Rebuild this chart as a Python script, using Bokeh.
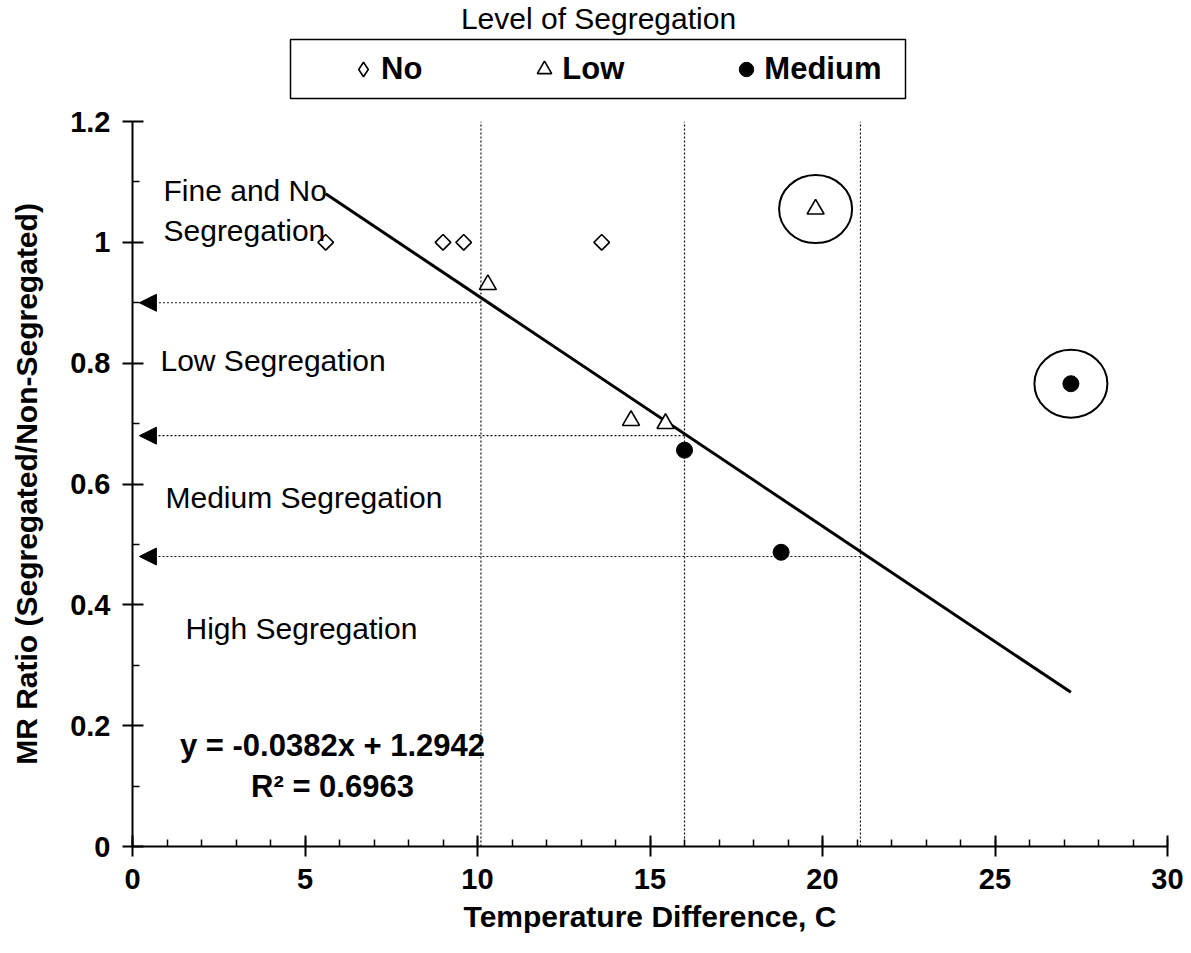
import numpy as np
from bokeh.plotting import figure
from bokeh.layouts import column
from bokeh.models import (Range1d, FixedTicker, CustomJSTickFormatter, Legend, LegendItem,
                          Label, Arrow, NormalHead, BoxAnnotation)
from bokeh.embed import file_html
from bokeh.resources import INLINE

# ---------------- data ----------------
no_x = [5.6, 9.0, 9.6, 13.6]
no_y = [1.0, 1.0, 1.0, 1.0]
low_x = [10.3, 14.45, 15.45, 19.8]
low_y = [0.93, 0.705, 0.70, 1.055]
med_x = [16.0, 18.8, 27.2]
med_y = [0.656, 0.487, 0.766]
outlier_x = [19.8, 27.2]
outlier_y = [1.055, 0.766]
fit_slope = -0.0382
fit_intercept = 1.2942
fit_r2 = 0.6963
fit_x = [5.6, 27.2]
boundary_x = [10.1, 16.0, 21.1]
boundary_y = [0.90, 0.68, 0.48]
region_labels = ["Fine and No", "Segregation", "Low Segregation", "Medium Segregation", "High Segregation"]
series_names = ["No", "Low", "Medium"]
legend_title = "Level of Segregation"
x_ticks = [0, 5, 10, 15, 20, 25, 30]
y_ticks = [0, 0.2, 0.4, 0.6, 0.8, 1, 1.2]
x_label = "Temperature Difference, C"
y_label = "MR Ratio (Segregated/Non-Segregated)"

FONT = "Liberation Sans"
INK = "black"
W = 1191
TOP_H = 100          # header strip holding the legend
MAIN_H = 953 - TOP_H

# main frame (pixels, in the whole picture)
FRAME_L, FRAME_R, FRAME_T, FRAME_B = 132, 1167, 121, 846
PX_X = (FRAME_R - FRAME_L) / 30.0
PX_Y = (FRAME_B - FRAME_T) / 1.2


def dx(px):
    return (px - FRAME_L) / PX_X


def dy(py):
    return (FRAME_B - py) / PX_Y


# ---------------- header: legend ----------------
head = figure(width=W, height=TOP_H, x_range=Range1d(0, 30), y_range=Range1d(TOP_H, 0),
              x_axis_type=None, y_axis_type=None, output_backend="svg", toolbar_location=None,
              min_border_left=FRAME_L, min_border_right=W - FRAME_R, min_border_top=0, min_border_bottom=0,
              background_fill_color="white", border_fill_color="white")
head.outline_line_color = None
head.xgrid.visible = False
head.ygrid.visible = False

# legend keys (not drawn in the strip: NaN positions)
k_no = head.scatter(x=[np.nan], y=[np.nan], marker="diamond", size=11,
                    fill_color="white", line_color=INK, line_width=1.6)
k_low = head.scatter(x=[np.nan], y=[np.nan], marker="triangle", size=17,
                     fill_color="white", line_color=INK, line_width=1.6)
k_med = head.scatter(x=[np.nan], y=[np.nan], marker="circle", size=16,
                     fill_color=INK, line_color=INK)

head.add_layout(Label(x=dx(598), y=18, text=legend_title, text_font=FONT, text_font_size="30px",
                      text_align="center", text_baseline="middle", text_color=INK))
head.add_layout(BoxAnnotation(left=dx(290), right=dx(905), top=39, bottom=98,
                              fill_alpha=0, line_color=INK, line_width=1.5, line_alpha=1))
legend = Legend(items=[LegendItem(label=series_names[0], renderers=[k_no]),
                       LegendItem(label=series_names[1], renderers=[k_low]),
                       LegendItem(label=series_names[2], renderers=[k_med])],
                orientation="horizontal", location=(345 - FRAME_L, TOP_H - 87),
                border_line_color=None, background_fill_alpha=0,
                label_text_font=FONT, label_text_font_style="bold", label_text_font_size="31px",
                label_text_color=INK,
                glyph_width=36, glyph_height=36, label_standoff=0, spacing=104,
                padding=0, margin=0)
head.add_layout(legend)

# ---------------- main chart ----------------
p = figure(width=W, height=MAIN_H, x_range=Range1d(0, 30), y_range=Range1d(0, 1.2),
           output_backend="svg", toolbar_location=None,
           min_border_left=FRAME_L, min_border_right=W - FRAME_R,
           min_border_top=FRAME_T - TOP_H, min_border_bottom=953 - FRAME_B,
           background_fill_color="white", border_fill_color="white")
p.outline_line_color = None
p.xgrid.visible = False
p.ygrid.visible = False

for ax in (p.xaxis[0], p.yaxis[0]):
    ax.axis_line_width = 2
    ax.axis_line_color = INK
    ax.major_tick_line_width = 2
    ax.major_tick_line_color = INK
    ax.minor_tick_line_width = 1.5
    ax.minor_tick_line_color = INK
    ax.major_tick_in = 11
    ax.major_tick_out = 10
    ax.minor_tick_in = 7
    ax.minor_tick_out = 0
    ax.major_label_text_font = FONT
    ax.major_label_text_font_style = "bold"
    ax.major_label_text_font_size = "29px"
    ax.major_label_text_color = INK
    ax.axis_label_text_font = FONT
    ax.axis_label_text_font_style = "bold"
    ax.axis_label_text_font_size = "30px"
    ax.axis_label_text_color = INK
    ax.major_label_standoff = 12

p.xaxis[0].ticker = FixedTicker(ticks=x_ticks, minor_ticks=list(range(0, 31)))
p.yaxis[0].ticker = FixedTicker(ticks=y_ticks, minor_ticks=[round(v, 1) for v in np.arange(0.1, 1.2, 0.2)])
p.yaxis[0].formatter = CustomJSTickFormatter(code="return tick.toString()")
p.xaxis[0].axis_label = x_label
p.yaxis[0].axis_label = y_label
p.xaxis[0].axis_label_standoff = 8
p.yaxis[0].axis_label_standoff = 24

# vertical dotted boundaries
p.segment(x0=boundary_x, y0=[0] * 3, x1=boundary_x, y1=[1.2] * 3,
          line_color="#111111", line_width=1.2, line_dash="2 2")

# horizontal dotted arrows to the axis
for bx, by in zip(boundary_x, boundary_y):
    p.add_layout(Arrow(end=NormalHead(size=17, fill_color=INK, line_color=INK, line_width=1),
                       x_start=bx, y_start=by, x_end=0.2, y_end=by,
                       line_color="#111111", line_width=1.2, line_dash="2 2"))

# regression line (from the chart's trend-line equation)
fit_y = [fit_slope * v + fit_intercept for v in fit_x]
p.line(fit_x, fit_y, line_color=INK, line_width=3)

# outlier ellipses
p.ellipse(x=outlier_x, y=outlier_y, width=73, height=68, width_units="screen", height_units="screen",
          fill_color=None, line_color=INK, line_width=2)

p.scatter(no_x, no_y, marker="square", angle=np.pi / 4, size=11,
          fill_color="white", line_color=INK, line_width=1.6)
p.scatter(low_x, low_y, marker="triangle", size=17,
          fill_color="white", line_color=INK, line_width=1.6)
p.scatter(med_x, med_y, marker="circle", size=16,
          fill_color=INK, line_color=INK)

# region labels
region_pos = [(dx(163), dy(190)), (dx(163), dy(230)), (dx(160), dy(360)),
              (dx(165), dy(497)), (dx(185), dy(628))]
for txt, (lx, ly) in zip(region_labels, region_pos):
    p.add_layout(Label(x=lx, y=ly, text=txt, text_font=FONT, text_font_size="30px",
                       text_baseline="middle", text_align="left", text_color=INK))

# equation
eq_text = f"y = {fit_slope:.4f}x + {fit_intercept:.4f}"
r2_text = f"R\u00b2 = {fit_r2:.4f}"
p.add_layout(Label(x=dx(332), y=dy(745), text=eq_text, text_font=FONT, text_font_size="31px",
                   text_font_style="bold", text_align="center", text_baseline="middle", text_color=INK))
p.add_layout(Label(x=dx(332), y=dy(786), text=r2_text, text_font=FONT, text_font_size="31px",
                   text_font_style="bold", text_align="center", text_baseline="middle", text_color=INK))

layout = column(head, p, spacing=0)
open("out.html", "w").write(file_html(layout, INLINE))
